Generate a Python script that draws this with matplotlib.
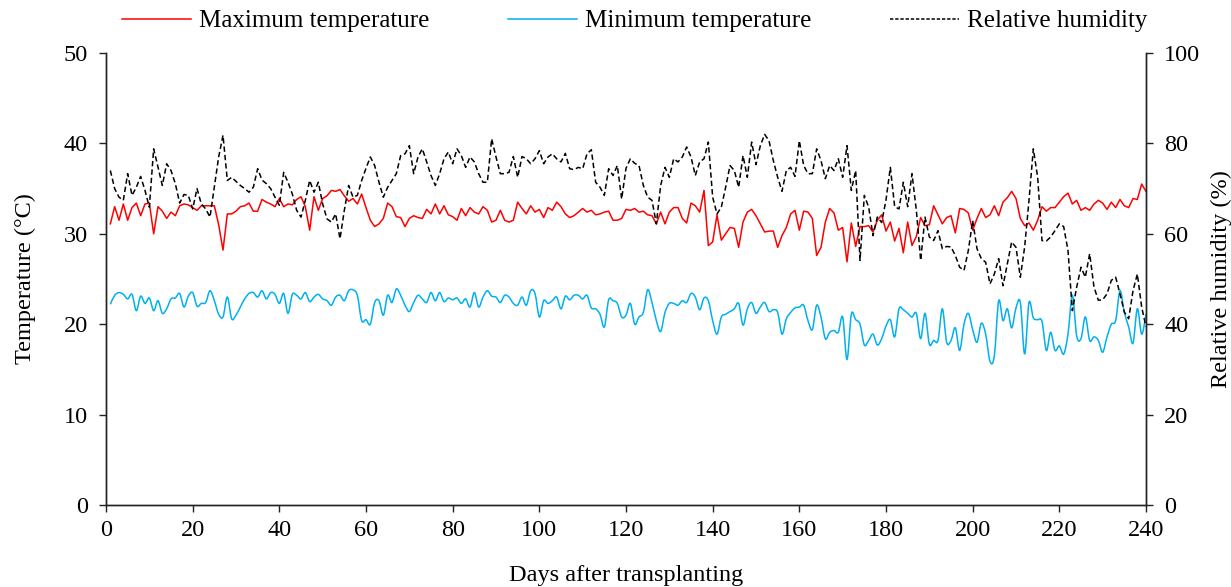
import matplotlib
matplotlib.use("Agg")
import matplotlib.pyplot as plt
import numpy as np
from matplotlib.path import Path
from matplotlib.patches import PathPatch
from matplotlib.lines import Line2D

plt.rcParams['font.family'] = ['Liberation Serif', 'DejaVu Serif']
plt.rcParams['font.size'] = 17.5

days = np.arange(1, 241)

t_max = [
    31.1, 33.0, 31.5, 33.3, 31.5, 32.9, 33.4, 32.0, 33.3, 33.4,
    30.0, 33.0, 32.5, 31.7, 32.4, 32.0, 33.1, 33.3, 33.2, 32.9,
    32.6, 33.1, 33.1, 33.1, 33.1, 31.0, 28.2, 32.2, 32.2, 32.5,
    33.0, 33.1, 33.4, 32.5, 32.5, 33.8, 33.5, 33.3, 33.0, 33.9,
    33.0, 33.3, 33.2, 33.8, 34.1, 33.0, 30.4, 34.1, 32.6, 33.9,
    34.2, 34.8, 34.7, 34.9, 34.2, 33.6, 33.9, 33.3, 34.4, 32.9,
    31.5, 30.8, 31.1, 31.7, 33.4, 33.0, 31.9, 31.8, 30.8, 31.7,
    32.0, 31.8, 31.7, 32.7, 32.2, 33.3, 32.2, 33.1, 32.1, 31.9,
    31.5, 32.8, 32.0, 32.9, 32.4, 32.2, 33.0, 32.6, 31.3, 31.5,
    32.6, 31.5, 31.3, 31.5, 33.5, 32.8, 32.2, 33.1, 32.4, 32.7,
    31.8, 32.9, 32.6, 33.5, 33.0, 32.2, 31.8, 32.0, 32.4, 32.8,
    32.4, 32.6, 32.1, 32.2, 32.4, 32.5, 31.5, 31.5, 31.7, 32.7,
    32.6, 32.8, 32.4, 32.5, 32.1, 32.0, 31.1, 32.4, 31.1, 32.4,
    32.9, 32.9, 31.7, 31.2, 33.4, 33.1, 32.4, 34.8, 28.7, 29.1,
    32.1, 29.3, 30.0, 30.7, 30.6, 28.5, 31.3, 32.4, 32.7, 32.0,
    31.1, 30.2, 30.3, 30.3, 28.5, 29.8, 30.7, 32.2, 32.6, 30.4,
    32.5, 32.4, 31.7, 27.6, 28.5, 31.3, 32.8, 32.3, 30.4, 30.7,
    26.9, 31.2, 28.6, 30.8, 30.8, 30.9, 30.2, 31.5, 32.1, 30.3,
    31.3, 29.2, 30.6, 27.9, 31.3, 28.7, 29.7, 31.8, 30.9, 31.0,
    33.1, 32.1, 31.1, 31.8, 32.0, 30.1, 32.8, 32.7, 32.3, 30.4,
    31.7, 32.8, 31.8, 32.1, 33.1, 32.0, 33.5, 34.0, 34.7, 33.9,
    31.7, 30.9, 31.2, 30.4, 31.5, 33.0, 32.5, 32.9, 32.9, 33.5,
    34.1, 34.5, 33.3, 33.7, 32.6, 32.9, 32.6, 33.3, 33.7, 33.4,
    32.7, 33.5, 32.9, 33.8, 33.1, 32.9, 33.9, 33.8, 35.5, 34.7,
]

t_min = [
    22.2, 23.2, 23.5, 23.3, 22.8, 23.3, 21.5, 23.1, 22.3, 22.9,
    21.5, 22.6, 21.2, 21.7, 22.8, 22.9, 23.4, 21.9, 23.1, 23.5,
    22.0, 22.3, 22.4, 23.7, 22.6, 21.1, 20.8, 23.0, 20.6, 21.0,
    21.9, 22.8, 23.4, 23.5, 23.0, 23.7, 22.8, 23.5, 23.3, 22.3,
    23.4, 21.2, 23.3, 23.2, 22.8, 23.5, 22.5, 23.0, 23.3, 22.8,
    22.6, 22.1, 23.0, 23.2, 22.6, 23.7, 23.8, 23.2, 20.4, 20.5,
    20.0, 22.4, 22.6, 21.0, 23.2, 22.4, 23.9, 23.2, 22.1, 21.4,
    22.4, 23.2, 22.8, 22.4, 23.5, 22.6, 23.5, 22.5, 22.9, 22.7,
    22.9, 22.3, 22.8, 21.9, 23.5, 21.9, 23.0, 23.7, 23.1, 23.0,
    22.4, 23.2, 23.0, 22.3, 22.1, 23.0, 22.1, 23.7, 23.4, 20.8,
    22.6, 22.3, 22.6, 23.0, 21.7, 23.1, 22.7, 23.2, 23.2, 22.8,
    23.2, 21.8, 21.7, 21.1, 19.7, 22.7, 22.6, 22.3, 20.8, 21.0,
    22.3, 20.0, 20.8, 21.3, 23.8, 22.4, 20.4, 19.2, 21.3, 22.3,
    22.3, 22.1, 22.6, 22.4, 23.4, 23.0, 21.6, 22.9, 22.6, 20.4,
    18.9, 20.8, 21.1, 21.4, 21.7, 22.3, 19.9, 21.7, 22.4, 21.2,
    21.9, 22.4, 21.4, 21.6, 21.3, 18.9, 20.6, 21.3, 21.8, 21.9,
    22.1, 20.4, 19.4, 22.1, 20.8, 18.4, 19.1, 19.3, 19.1, 20.8,
    16.1, 21.1, 20.5, 20.0, 17.7, 18.2, 18.9, 17.7, 18.4, 19.8,
    20.5, 18.6, 21.7, 21.6, 21.2, 20.8, 21.2, 18.4, 21.2, 17.8,
    18.2, 18.2, 21.7, 18.0, 18.2, 19.6, 17.1, 20.0, 21.2, 19.4,
    18.0, 20.1, 18.9, 15.9, 16.5, 22.6, 20.4, 21.7, 19.6, 21.8,
    22.4, 16.7, 22.4, 20.7, 20.5, 20.3, 17.1, 19.1, 17.1, 17.6,
    16.7, 18.9, 23.2, 18.7, 18.4, 20.8, 18.2, 18.6, 18.2, 16.9,
    18.6, 20.0, 20.4, 23.7, 21.3, 19.7, 17.9, 21.7, 18.9, 21.1,
]

humidity = [
    74.0, 70.0, 68.1, 67.4, 73.3, 68.5, 70.3, 72.7, 69.6, 65.9,
    78.8, 74.7, 70.7, 75.5, 74.0, 71.1, 66.8, 68.7, 68.5, 65.5,
    70.0, 66.6, 65.5, 63.7, 70.3, 77.0, 81.8, 71.8, 72.5, 71.6,
    70.7, 70.0, 69.2, 70.3, 74.4, 71.9, 71.1, 70.0, 68.1, 66.3,
    73.6, 71.4, 68.8, 65.2, 63.7, 67.4, 71.8, 69.2, 71.4, 66.6,
    63.3, 62.6, 64.4, 58.9, 65.2, 70.7, 68.1, 68.5, 71.8, 74.5,
    77.0, 75.1, 71.4, 68.1, 70.3, 71.8, 73.3, 77.3, 77.7, 79.5,
    73.3, 77.0, 78.8, 75.9, 72.9, 70.7, 73.3, 76.6, 78.1, 75.5,
    78.8, 77.3, 74.7, 77.0, 75.9, 73.3, 71.4, 71.4, 81.0, 77.0,
    73.3, 73.3, 73.6, 77.1, 72.5, 77.1, 76.6, 75.5, 76.6, 78.4,
    75.5, 77.0, 77.7, 76.6, 75.9, 77.8, 74.4, 74.2, 74.7, 74.4,
    77.7, 78.6, 71.4, 70.3, 68.5, 74.4, 72.9, 75.1, 67.7, 74.5,
    76.6, 75.6, 75.1, 70.7, 68.1, 67.4, 62.2, 70.7, 74.7, 72.5,
    76.6, 75.9, 77.0, 79.2, 77.0, 72.9, 75.9, 76.6, 80.3, 68.1,
    64.4, 65.9, 70.3, 75.1, 74.0, 70.3, 77.3, 72.5, 80.3, 75.3,
    79.5, 82.0, 80.6, 76.2, 72.5, 69.4, 74.0, 74.7, 72.7, 80.6,
    75.1, 73.3, 73.3, 78.8, 76.2, 72.2, 75.1, 74.0, 76.6, 72.5,
    79.5, 69.6, 74.0, 54.1, 68.5, 65.9, 59.6, 63.7, 62.5, 67.5,
    74.7, 66.0, 65.5, 71.4, 66.0, 73.3, 65.2, 54.1, 63.7, 59.3,
    58.5, 60.7, 56.7, 57.2, 57.1, 55.2, 52.6, 51.9, 56.3, 62.9,
    56.7, 54.5, 53.7, 48.9, 51.1, 54.5, 48.5, 53.4, 58.2, 57.0,
    50.4, 57.1, 67.4, 78.8, 72.5, 58.5, 58.4, 59.3, 60.7, 62.2,
    61.6, 56.3, 43.0, 48.2, 52.6, 50.4, 55.6, 48.2, 45.3, 45.4,
    46.7, 49.7, 50.4, 46.7, 42.7, 41.2, 47.4, 51.1, 43.8, 39.4,
]

red = '#FF0000'
blue = '#00B0F0'


def smooth_path(x, y):
    # Excel-like smoothed line: cubic bezier through every point
    x = np.asarray(x, float)
    y = np.asarray(y, float)
    verts = [(x[0], y[0])]
    codes = [Path.MOVETO]
    n = len(x)
    for i in range(n - 1):
        i0 = max(i - 1, 0)
        i3 = min(i + 2, n - 1)
        c1 = (x[i] + (x[i + 1] - x[i0]) / 6, y[i] + (y[i + 1] - y[i0]) / 6)
        c2 = (x[i + 1] - (x[i3] - x[i]) / 6, y[i + 1] - (y[i3] - y[i]) / 6)
        verts += [c1, c2, (x[i + 1], y[i + 1])]
        codes += [Path.CURVE4] * 3
    return Path(verts, codes)


fig = plt.figure(figsize=(12.31, 5.87), dpi=100)
ax = fig.add_axes([106 / 1231, 1 - 505 / 587, 1040 / 1231, 452 / 587])
ax2 = ax.twinx()

ax.plot(days, t_max, color=red, lw=1.1)
ax.add_patch(PathPatch(smooth_path(days, t_min), facecolor='none',
                       edgecolor=blue, lw=1.1))
ax2.plot(days, humidity, color='black', lw=1.1, dashes=(3.5, 2))

ax.set_xlim(0, 240)
ax.set_ylim(0, 50)
ax2.set_ylim(0, 100)
ax.set_xticks(np.arange(0, 241, 20))
ax.set_yticks(np.arange(0, 51, 10))
ax2.set_yticks(np.arange(0, 101, 20))

for a in (ax, ax2):
    a.spines['top'].set_visible(False)
    for s in a.spines.values():
        s.set_linewidth(1.0)
        s.set_color('#222222')
    a.tick_params(direction='out', length=5, width=1.0, labelsize=17.5,
                  color='#222222')
ax.tick_params(axis='x', pad=6)
ax.tick_params(axis='y', pad=8)
ax2.tick_params(axis='y', pad=8)

ax.set_xlabel('Days after transplanting', fontsize=17.5, labelpad=17)
ax.set_ylabel('Temperature (°C)', fontsize=17.5, labelpad=20)
ax2.set_ylabel('Relative humidity (%)', fontsize=17.5, labelpad=8)

entries = [
    (Line2D([], [], color=red, lw=1.1), 'Maximum temperature', 122),
    (Line2D([], [], color=blue, lw=1.1), 'Minimum temperature', 508),
    (Line2D([], [], color='black', lw=1.1, dashes=(2.2, 1.2)),
     'Relative humidity', 890),
]
for h, lab, px in entries:
    fig.legend(handles=[h], labels=[lab], loc='center left',
               bbox_to_anchor=(px / 1231, 1 - 21 / 587), frameon=False,
               borderpad=0, borderaxespad=0, handlelength=2.75,
               handletextpad=0.33, fontsize=18)

fig.savefig('out.png', dpi=100)
